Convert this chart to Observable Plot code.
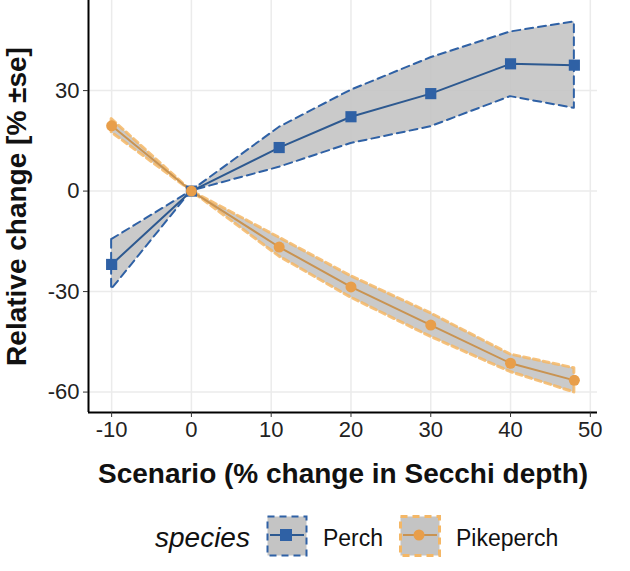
<!DOCTYPE html>
<html>
<head>
<meta charset="utf-8">
<script src="https://cdn.jsdelivr.net/npm/d3@7"></script>
<script src="https://cdn.jsdelivr.net/npm/@observablehq/plot@0.6"></script>
<style>
  body { margin: 0; background: #fff; font-family: "Liberation Sans", Arial, sans-serif; }
  #legend { display: flex; align-items: center; height: 66px; padding-left: 155px; }
  #legend .title { font-style: italic; font-size: 28px; margin-right: 16px; color: #111; }
  #legend .lab { font-size: 23px; margin: 0 16px 0 15px; color: #111; }
</style>
</head>
<body>
<div id="chart"></div>
<div id="legend"></div>
<script>
// scenarios (% change in Secchi depth)
const scenario = [-10, 0, 11, 20, 30, 40, 48]

// Perch: relative change and +/- se bounds
const perchMean = [-21.9, 0, 13.0, 22.2, 29.1, 38.0, 37.6]
const perchLo   = [-29.4, 0, 7.1, 14.2, 19.2, 28.2, 24.7]
const perchHi   = [-14.5, 0, 19.0, 30.1, 39.8, 47.5, 50.5]

// Pikeperch
const pikeMean = [19.5, 0, -16.7, -28.6, -40.0, -51.4, -56.5]
const pikeLo   = [17.5, 0, -19.5, -31.8, -43.5, -54.0, -60.1]
const pikeHi   = [21.5, 0, -13.9, -25.4, -36.5, -48.8, -52.9]

const xTicks = [-10, 0, 10, 20, 30, 40, 50]
const yTicks = [-60, -30, 0, 30]

const perch = scenario.map((x, i) => ({x, mean: perchMean[i], lo: perchLo[i], hi: perchHi[i]}))
const pike = scenario.map((x, i) => ({x, mean: pikeMean[i], lo: pikeLo[i], hi: pikeHi[i]}))

const blue = '#2f61a5'
const blueLine = '#2d5990'
const orange = '#e89e4a'
const orangeLine = '#c99351'
const orangeDash = '#f4b766'
const bandFill = '#c4c4c4'

const xDomain = [-12.9, 50.9]
const yDomain = [-66.1, 56.9]

const chart = Plot.plot({
  width: 630,
  height: 505,
  marginLeft: 88,
  marginRight: 33,
  marginTop: 0,
  marginBottom: 93,
  style: {fontFamily: '"Liberation Sans", Arial, sans-serif', background: 'white'},
  x: {domain: xDomain, ticks: xTicks},
  y: {domain: yDomain, ticks: yTicks},
  marks: [
    Plot.gridX(xTicks, {stroke: '#ebebeb', strokeOpacity: 1, strokeWidth: 1.5}),
    Plot.gridY(yTicks, {stroke: '#ebebeb', strokeOpacity: 1, strokeWidth: 1.5}),
    Plot.areaY(perch, {x: 'x', y1: 'lo', y2: 'hi', fill: bandFill, fillOpacity: 0.9,
      stroke: blue, strokeWidth: 2, strokeDasharray: '8,5'}),
    Plot.areaY(pike, {x: 'x', y1: 'lo', y2: 'hi', fill: bandFill, fillOpacity: 0.9,
      stroke: orangeDash, strokeWidth: 3, strokeDasharray: '6,4', strokeOpacity: 0.85}),
    Plot.line(perch, {x: 'x', y: 'mean', stroke: blueLine, strokeWidth: 2}),
    Plot.line(pike, {x: 'x', y: 'mean', stroke: orangeLine, strokeWidth: 2}),
    Plot.dot(perch, {x: 'x', y: 'mean', symbol: 'square', r: 6.3, fill: blue}),
    Plot.dot(pike, {x: 'x', y: 'mean', r: 5.5, fill: orange}),
    Plot.ruleX([xDomain[0]], {stroke: 'black', strokeWidth: 2}),
    Plot.ruleY([yDomain[0]], {stroke: 'black', strokeWidth: 2}),
    Plot.axisX(xTicks, {label: null, tickSize: 5, tickPadding: 4, fontSize: 22, stroke: '#333', fill: '#222',
      tickFormat: d => String(d)}),
    Plot.axisY(yTicks, {label: null, tickSize: 5, tickPadding: 4, fontSize: 22, stroke: '#333', fill: '#222',
      tickFormat: d => String(d)}),
    Plot.text(['Scenario (% change in Secchi depth)'], {frameAnchor: 'bottom', dy: 70,
      fontSize: 28, fontWeight: 'bold', fill: '#111'}),
    Plot.text(['Relative change [% ±se]'], {frameAnchor: 'left', dx: -71, rotate: -90, textAnchor: 'middle',
      fontSize: 28, fontWeight: 'bold', fill: '#111'})
  ]
})

d3.select('#chart').append(() => chart)

// legend below the plot
function key(color, dash, dashW, symbol, lineColor) {
  const mark = symbol === 'square'
    ? `<rect x="14" y="14" width="12" height="12" fill="${color}"/>`
    : `<circle cx="20" cy="20" r="5.5" fill="${color}"/>`
  return `<svg width="42" height="42"><rect x="1.5" y="1.5" width="39" height="39" fill="${bandFill}"
    stroke="${dash}" stroke-width="${dashW}" stroke-dasharray="7,5"/>
    <line x1="4" x2="38" y1="20" y2="20" stroke="${lineColor}" stroke-width="2"/>${mark}</svg>`
}
const legend = d3.select('#legend')
legend.append('span').attr('class', 'title').text('species')
legend.append('span').html(key(blue, blue, 2, 'square', blueLine))
legend.append('span').attr('class', 'lab').text('Perch')
legend.append('span').html(key(orange, orangeDash, 3, 'circle', orangeLine))
legend.append('span').attr('class', 'lab').text('Pikeperch')
</script>
</body>
</html>
